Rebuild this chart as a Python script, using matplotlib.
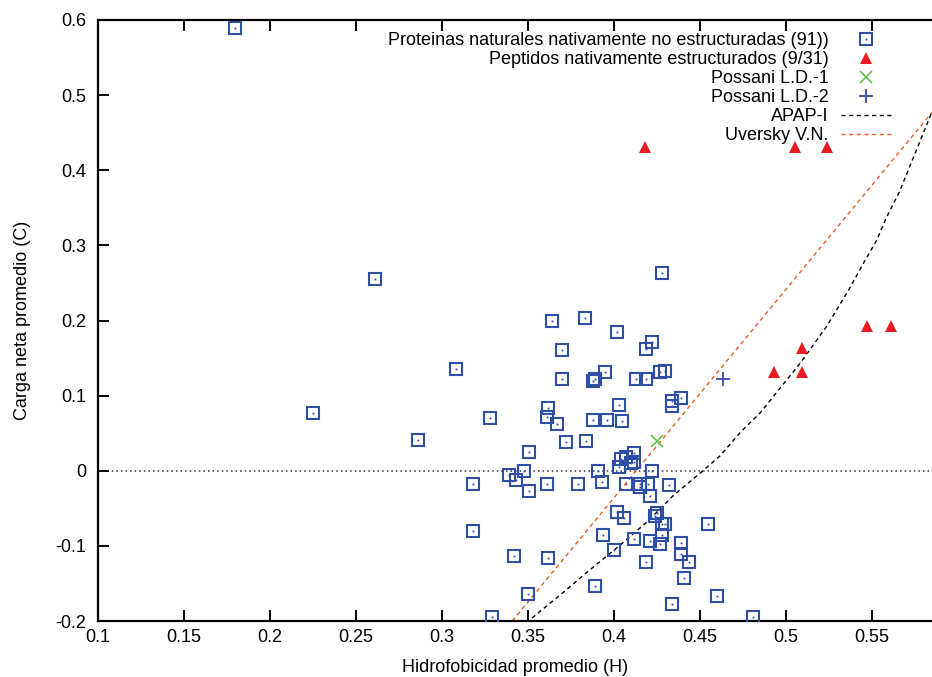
import matplotlib
matplotlib.use('Agg')
import matplotlib.pyplot as plt
from matplotlib.ticker import MultipleLocator, FuncFormatter
from matplotlib.legend_handler import HandlerTuple

plt.rcParams['font.family'] = ['Liberation Sans', 'DejaVu Sans']

# Proteinas naturales nativamente no estructuradas
prot_h = [0.180, 0.261, 0.225, 0.308, 0.328, 0.286, 0.339, 0.318, 0.318, 0.342,
          0.329, 0.348, 0.351, 0.351, 0.361, 0.379, 0.391, 0.393, 0.404, 0.403,
          0.412, 0.407, 0.415, 0.415, 0.420, 0.422, 0.432, 0.421, 0.402, 0.406,
          0.425, 0.424, 0.428, 0.430, 0.428, 0.427, 0.394, 0.412, 0.421, 0.400,
          0.455, 0.439, 0.439, 0.444, 0.419, 0.441, 0.362, 0.389, 0.434, 0.460,
          0.350, 0.481, 0.364, 0.383, 0.402, 0.422, 0.419, 0.370, 0.370, 0.395,
          0.389, 0.388, 0.413, 0.419, 0.427, 0.430, 0.434, 0.434, 0.439, 0.362,
          0.361, 0.367, 0.388, 0.396, 0.403, 0.405, 0.372, 0.384, 0.407, 0.412,
          0.410, 0.428, 0.343]
prot_c = [0.590, 0.255, 0.077, 0.135, 0.070, 0.041, -0.005, -0.018, -0.080, -0.114,
          -0.195, 0.000, 0.025, -0.027, -0.017, -0.018, 0.000, -0.015, 0.015, 0.005,
          0.012, -0.018, -0.017, -0.021, -0.017, 0.000, -0.019, -0.034, -0.055, -0.063,
          -0.056, -0.060, -0.071, -0.071, -0.086, -0.098, -0.086, -0.091, -0.094, -0.106,
          -0.071, -0.096, -0.111, -0.122, -0.122, -0.143, -0.116, -0.154, -0.178, -0.167,
          -0.164, -0.195, 0.199, 0.203, 0.185, 0.171, 0.162, 0.161, 0.122, 0.131,
          0.122, 0.119, 0.122, 0.122, 0.131, 0.133, 0.093, 0.086, 0.097, 0.083,
          0.071, 0.062, 0.067, 0.067, 0.087, 0.066, 0.038, 0.039, 0.018, 0.023,
          0.010, 0.263, -0.012]

# Peptidos nativamente estructurados
pep_h = [0.418, 0.5055, 0.524, 0.547, 0.561, 0.5096, 0.4933, 0.5096]
pep_c = [0.431, 0.431, 0.431, 0.1925, 0.1925, 0.163, 0.131, 0.131]

pos1_h = [0.425]
pos1_c = [0.040]
pos2_h = [0.4636]
pos2_c = [0.122]

# APAP-I boundary curve
apap_h = [0.3525, 0.3706, 0.3845, 0.4037, 0.4194, 0.4346, 0.4503, 0.4619, 0.4735,
          0.4851, 0.4967, 0.5083, 0.5237, 0.5364, 0.5451, 0.5529, 0.5587, 0.5660,
          0.5765, 0.5850]
apap_c = [-0.196, -0.162, -0.135, -0.099, -0.068, -0.033, -0.003, 0.020, 0.051,
          0.077, 0.110, 0.143, 0.192, 0.240, 0.276, 0.307, 0.338, 0.371,
          0.430, 0.478]

# Uversky V.N. boundary line
uv_h = [0.341, 0.585]
uv_c = [-0.200, 0.477]

blue = '#2f4ea6'
red = '#ec1c24'
green = '#5cbf3a'
orange = '#f05a24'

fig = plt.figure(figsize=(9.32, 6.77), dpi=100)
ax = fig.add_axes([97.7/932, 56/677, 1 - 97.7/932, 601/677])

ax.axhline(0, color='#333333', lw=1.1, ls=(0, (1, 2)), zorder=1)

ax.plot(apap_h, apap_c, color='black', lw=1.0, dashes=(3, 2.5), label='APAP-I', zorder=2)
ax.plot(uv_h, uv_c, color=orange, lw=1.0, dashes=(3, 2.5), label='Uversky V.N.', zorder=2)

sq, = ax.plot(prot_h, prot_c, ls='none', marker='s', ms=8.3, mfc='none', mec=blue, mew=1.5, zorder=3)
dt, = ax.plot(prot_h, prot_c, ls='none', marker='s', ms=1.3, mfc=blue, mec=blue, mew=0, zorder=3)
tri, = ax.plot(pep_h, pep_c, ls='none', marker='^', ms=8, color=red, mew=0, zorder=4)
xm, = ax.plot(pos1_h, pos1_c, ls='none', marker='x', ms=9, color=green, mew=1.1, zorder=4)
pm, = ax.plot(pos2_h, pos2_c, ls='none', marker='+', ms=10, color=blue, mew=1.3, zorder=4)

ax.set_xlim(0.1, 0.585)
ax.set_ylim(-0.2, 0.6)
ax.xaxis.set_major_locator(MultipleLocator(0.05))
ax.yaxis.set_major_locator(MultipleLocator(0.1))
fmt = FuncFormatter(lambda v, p: ('%g' % round(v, 3)))
ax.xaxis.set_major_formatter(fmt)
ax.yaxis.set_major_formatter(fmt)
ax.tick_params(direction='in', length=8, width=1.4, labelsize=13, colors='black',
               top=True, right=False)
ax.tick_params(axis='x', pad=6)
ax.tick_params(axis='y', pad=8)
for s in ['left', 'bottom', 'top']:
    ax.spines[s].set_linewidth(1.6)
ax.spines['right'].set_visible(False)

ax.set_xlabel('Hidrofobicidad promedio (H)', fontsize=13, labelpad=9)
ax.set_ylabel('Carga neta promedio (C)', fontsize=13, labelpad=18)

handles = [(sq, dt), tri, xm, pm, ax.lines[1], ax.lines[2]]
labels = ['Proteinas naturales nativamente no estructuradas (91))',
          'Peptidos nativamente estructurados (9/31)',
          'Possani L.D.-1', 'Possani L.D.-2', 'APAP-I', 'Uversky V.N.']
leg = ax.legend(handles, labels, loc='upper right', bbox_to_anchor=(0.951, 0.980),
                frameon=False, markerfirst=False, fontsize=13, handlelength=2.8,
                handletextpad=0.65, labelspacing=0.115, borderpad=0, borderaxespad=0,
                handler_map={tuple: HandlerTuple(ndivide=1)}, numpoints=1)

fig.savefig('out.png', dpi=100)
